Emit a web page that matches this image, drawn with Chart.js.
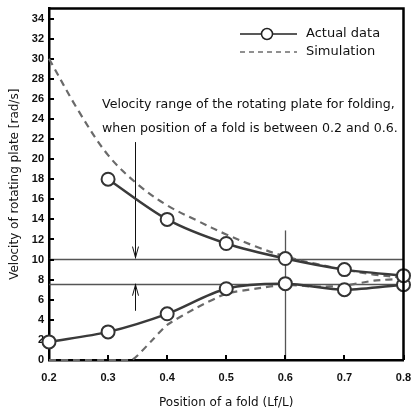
<!DOCTYPE html>
<html>
<head>
<meta charset="utf-8">
<script src="https://cdn.jsdelivr.net/npm/chart.js@4"></script>
<style>
  html, body { margin: 0; padding: 0; background: #fff; }
  #wrap { width: 412px; height: 410px; }
</style>
</head>
<body>
<div id="wrap"><canvas id="c1" width="412" height="410"></canvas></div>
<script>
// measured points
const foldPos = [0.2, 0.3, 0.4, 0.5, 0.6, 0.7, 0.8];
const actualUpper = [null, 18.0, 14.0, 11.6, 10.1, 9.0, 8.4];
const actualLower = [1.8, 2.8, 4.6, 7.1, 7.6, 7.0, 7.5];

// simulation curves
const simPos = [0.2, 0.25, 0.3, 0.35, 0.4, 0.45, 0.5, 0.55, 0.6, 0.65, 0.7, 0.75, 0.8];
const simUpper = [30.0, 24.8, 20.4, 17.5, 15.4, 13.9, 12.5, 11.3, 10.3, 9.6, 9.0, 8.5, 8.2];
const simLowerPos = [0.2, 0.25, 0.3, 0.34, 0.375, 0.4, 0.45, 0.5, 0.55, 0.6, 0.65, 0.7, 0.75, 0.8];
const simLower = [0, 0, 0, 0, 2.0, 3.5, 5.2, 6.6, 7.1, 7.5, 7.3, 7.4, 7.9, 8.1];

// range markers
const rangeHigh = 10.1;
const rangeLow = 7.6;
const arrowX = 0.345;
const arrowTop = 21.7;
const arrowBottom = 4.9;
const foldLineX = 0.6;
const foldLineTop = 12.9;

const yTicks = [0, 2, 4, 6, 8, 10, 12, 14, 16, 18, 20, 22, 24, 26, 28, 30, 32, 34];
const xTicks = [0.2, 0.3, 0.4, 0.5, 0.6, 0.7, 0.8];

const noteLines = [
  'Velocity range of the rotating plate for folding,',
  'when position of a fold is between 0.2 and 0.6.'
];

const toPts = (xs, ys) => xs.map((x, i) => ({ x: x, y: ys[i] })).filter(p => p.y !== null);

const FONT = '"Liberation Sans", Arial, sans-serif';
const TEXTFONT = '"DejaVu Sans", sans-serif';

const overlay = {
  id: 'overlay',
  beforeDatasetsDraw(chart) {
    const { ctx, chartArea: a, scales: { x, y } } = chart;
    ctx.save();
    ctx.strokeStyle = '#555';
    ctx.lineWidth = 1.3;
    // horizontal range lines
    [rangeHigh, rangeLow].forEach(v => {
      const py = Math.round(y.getPixelForValue(v)) + 0.5;
      ctx.beginPath();
      ctx.moveTo(a.left, py);
      ctx.lineTo(a.right, py);
      ctx.stroke();
    });
    // vertical line at 0.6
    const fx = Math.round(x.getPixelForValue(foldLineX)) + 0.5;
    ctx.beginPath();
    ctx.moveTo(fx, y.getPixelForValue(foldLineTop));
    ctx.lineTo(fx, a.bottom);
    ctx.stroke();

    // arrows
    ctx.strokeStyle = '#111';
    ctx.lineWidth = 1;
    const ax = Math.round(x.getPixelForValue(arrowX)) + 0.5;
    const hiY = y.getPixelForValue(rangeHigh);
    const loY = y.getPixelForValue(rangeLow);
    ctx.beginPath();
    ctx.moveTo(ax, y.getPixelForValue(arrowTop));
    ctx.lineTo(ax, hiY);
    ctx.moveTo(ax - 3, hiY - 12);
    ctx.lineTo(ax, hiY - 1);
    ctx.lineTo(ax + 3, hiY - 12);
    ctx.moveTo(ax, y.getPixelForValue(arrowBottom));
    ctx.lineTo(ax, loY);
    ctx.moveTo(ax - 3, loY + 12);
    ctx.lineTo(ax, loY + 1);
    ctx.lineTo(ax + 3, loY + 12);
    ctx.stroke();

    // inner tick marks
    ctx.strokeStyle = '#000';
    ctx.lineWidth = 2;
    ctx.beginPath();
    yTicks.forEach(v => {
      const py = Math.round(y.getPixelForValue(v));
      ctx.moveTo(a.left, py);
      ctx.lineTo(a.left + 5, py);
    });
    xTicks.forEach(v => {
      const px = Math.round(x.getPixelForValue(v));
      ctx.moveTo(px, a.bottom);
      ctx.lineTo(px, a.bottom - 5);
    });
    ctx.stroke();

    // note text
    ctx.fillStyle = '#111';
    ctx.font = '12.6px ' + TEXTFONT;
    ctx.textBaseline = 'middle';
    ctx.textAlign = 'left';
    ctx.fillText(noteLines[0], 102, 105);
    ctx.fillText(noteLines[1], 102, 129);
    ctx.restore();
  },
  afterDraw(chart) {
    const { ctx, chartArea: a } = chart;
    ctx.save();
    // frame top and right
    ctx.strokeStyle = '#000';
    ctx.lineWidth = 2.5;
    ctx.beginPath();
    ctx.moveTo(a.left, a.top);
    ctx.lineTo(a.right, a.top);
    ctx.lineTo(a.right, a.bottom);
    ctx.stroke();

    // legend
    ctx.strokeStyle = '#222';
    ctx.lineWidth = 1.5;
    ctx.beginPath();
    ctx.moveTo(240, 34);
    ctx.lineTo(297, 34);
    ctx.stroke();
    ctx.beginPath();
    ctx.arc(267, 34, 5.5, 0, Math.PI * 2);
    ctx.fillStyle = '#fff';
    ctx.fill();
    ctx.stroke();
    ctx.setLineDash([5, 4]);
    ctx.lineWidth = 1.2;
    ctx.beginPath();
    ctx.moveTo(240, 52);
    ctx.lineTo(297, 52);
    ctx.stroke();
    ctx.setLineDash([]);
    ctx.fillStyle = '#111';
    ctx.font = '13px ' + TEXTFONT;
    ctx.textBaseline = 'middle';
    ctx.textAlign = 'left';
    ctx.fillText('Actual data', 306, 34);
    ctx.fillText('Simulation', 306, 52);
    ctx.restore();
  }
};

const lineStyle = {
  borderColor: '#3a3a3a',
  borderWidth: 2.5,
  pointRadius: 6.5,
  pointBorderWidth: 2,
  pointBackgroundColor: '#fff',
  pointBorderColor: '#333',
  tension: 0.3,
  clip: false,
  order: 1
};
const simStyle = {
  borderColor: '#6a6a6a',
  borderWidth: 2.2,
  borderDash: [7, 5],
  pointRadius: 0,
  tension: 0.35,
  clip: false,
  order: 2
};

new Chart(document.getElementById('c1').getContext('2d'), {
  type: 'line',
  data: {
    datasets: [
      Object.assign({ label: 'Simulation upper', data: toPts(simPos, simUpper) }, simStyle),
      Object.assign({ label: 'Simulation lower', data: toPts(simLowerPos, simLower) }, simStyle, { tension: 0.2 }),
      Object.assign({ label: 'Actual upper', data: toPts(foldPos, actualUpper) }, lineStyle),
      Object.assign({ label: 'Actual lower', data: toPts(foldPos, actualLower) }, lineStyle)
    ]
  },
  options: {
    responsive: false,
    animation: false,
    layout: { padding: { top: 6, right: 8, left: 0, bottom: 0 } },
    plugins: { legend: { display: false }, tooltip: { enabled: false } },
    scales: {
      x: {
        type: 'linear',
        min: 0.2,
        max: 0.8,
        afterBuildTicks: s => { s.ticks = xTicks.map(v => ({ value: v })); },
        afterFit: s => { s.height = 50; s.paddingLeft = 0; s.paddingRight = 0; },
        grid: { display: false, drawTicks: false },
        border: { display: true, color: '#000', width: 2.5 },
        ticks: {
          padding: 11,
          color: '#111',
          font: { family: FONT, size: 11, weight: 'bold' },
          callback: v => v.toFixed(1)
        },
        title: {
          display: true,
          text: 'Position of a fold (Lf/L)',
          color: '#111',
          font: { family: TEXTFONT, size: 12 },
          padding: { top: 4, bottom: 0 }
        }
      },
      y: {
        min: 0,
        max: 35,
        afterBuildTicks: s => { s.ticks = yTicks.map(v => ({ value: v })); },
        afterFit: s => { s.width = 49; s.paddingTop = 0; s.paddingBottom = 0; },
        grid: { display: false, drawTicks: false },
        border: { display: true, color: '#000', width: 2.5 },
        ticks: {
          padding: 5,
          color: '#111',
          font: { family: FONT, size: 11, weight: 'bold' }
        },
        title: {
          display: true,
          text: 'Velocity of rotating plate [rad/s]',
          color: '#111',
          font: { family: TEXTFONT, size: 12 },
          padding: { top: 8, bottom: 0 }
        }
      }
    }
  },
  plugins: [overlay]
});
</script>
</body>
</html>
